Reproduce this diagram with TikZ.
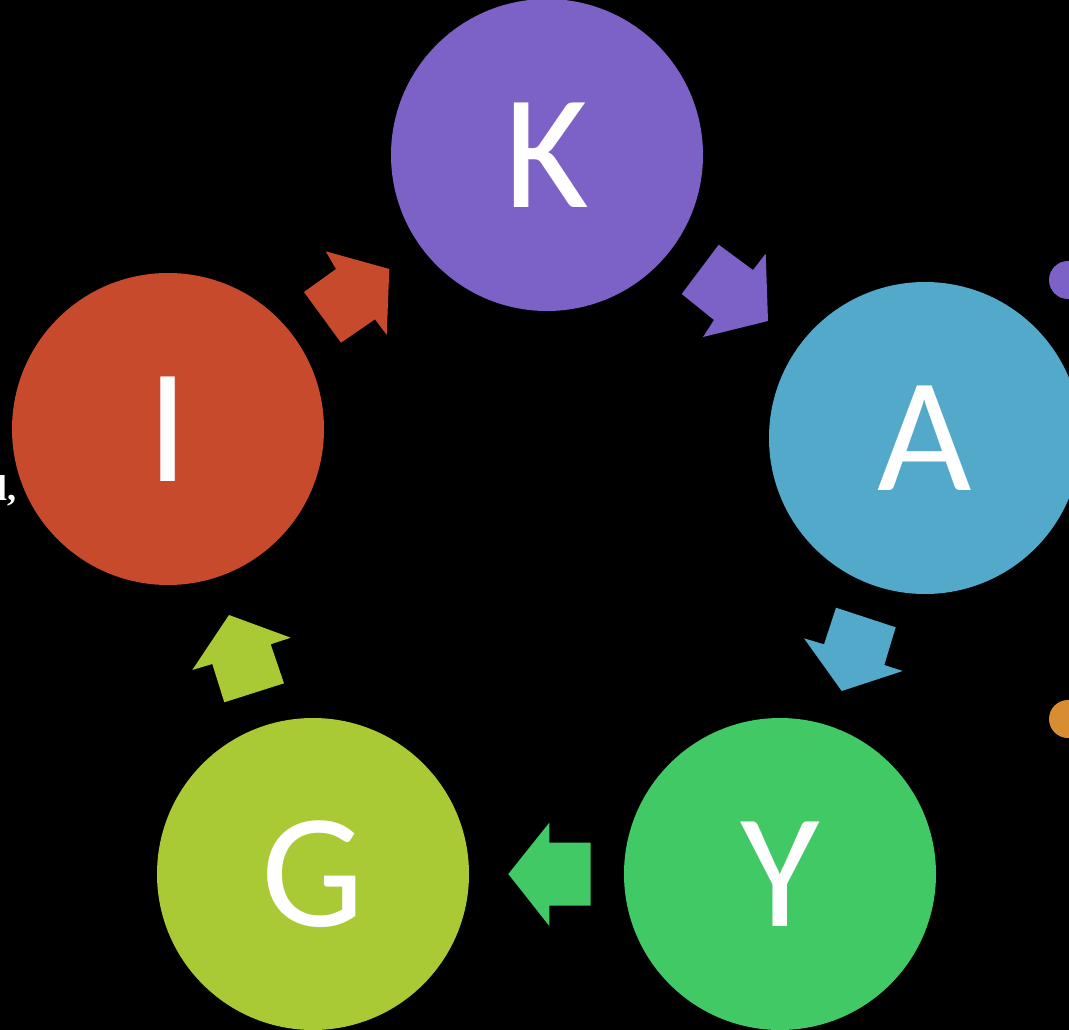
\documentclass[tikz,border=0pt]{standalone}
\usepackage{fontspec}
\setmainfont{Carlito}
\newfontfamily\serifbold{Liberation Serif Bold}
\definecolor{cpurple}{HTML}{7C61C6}
\definecolor{cblue}{HTML}{52A9C9}
\definecolor{cgreen}{HTML}{41C966}
\definecolor{cyg}{HTML}{A9C935}
\definecolor{cred}{HTML}{C74A2C}
\definecolor{corange}{HTML}{D88D33}
\begin{document}
\begin{tikzpicture}[x=1pt,y=-1pt,
  bubble/.style={circle,inner sep=0pt,minimum size=312pt,text=white,
    font=\fontsize{163}{163}\selectfont},
  dot/.style={circle,inner sep=0pt,minimum size=38pt}]
\useasboundingbox (0,0) rectangle (1069,1030);
\clip (0,0) rectangle (1069,1030);
\fill[black] (0,0) rectangle (1069,1030);
% circles
\node[bubble,fill=cpurple] (K) at (547,155) {K};
\node[bubble,fill=cblue] (A) at (925,438) {A};
\node[bubble,fill=cgreen] (Y) at (780,874) {Y};
\node[bubble,fill=cyg] (G) at (313,874) {G};
\node[bubble,fill=cred] (I) at (168,429) {I};
% side dots
\node[dot,fill=cpurple] (d1) at (1068,280) {};
\node[dot,fill=corange] (d2) at (1068,719) {};
% left text fragment
\node[anchor=base west,inner sep=0pt,text=white,
  font=\serifbold\fontsize{36}{36}\selectfont] (t) at (-3,500) {l,};
% block arrows
\fill[cpurple] (718.7,244.7) -- (753,270) -- (765.7,253.7) -- (768,321)
  -- (703,337) -- (714,320) -- (681.7,294) -- cycle;
\fill[cblue] (836,607.7) -- (895.7,627.3) -- (884.3,665) -- (902.7,671)
  -- (841.7,691) -- (804,638.3) -- (824,644.3) -- cycle;
\fill[cgreen] (590.7,842.7) -- (549.3,842.7) -- (549.3,822.7) -- (508.3,874)
  -- (549.3,926) -- (549.3,905.7) -- (590.7,905.7) -- cycle;
\fill[cyg] (224.3,702.3) -- (212.3,664) -- (192.3,670) -- (229,615)
  -- (290.7,637.7) -- (270.7,644.3) -- (284,683.3) -- cycle;
\fill[cred] (304,292) -- (336,269) -- (325.7,251.3) -- (389.3,269)
  -- (386.7,335) -- (375,319.3) -- (341,342.7) -- cycle;
\end{tikzpicture}
\end{document}
